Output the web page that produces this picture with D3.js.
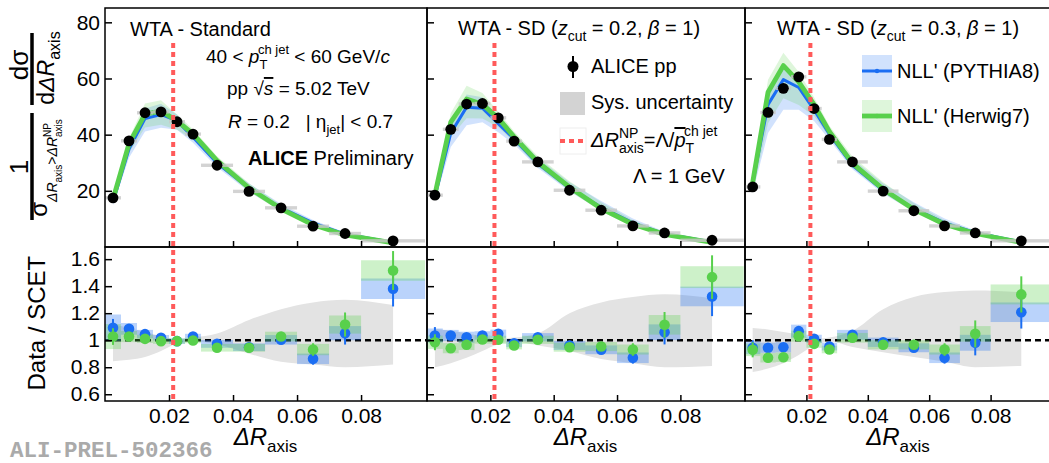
<!DOCTYPE html>
<html>
<head>
<meta charset="utf-8">
<script src="https://cdn.jsdelivr.net/npm/d3@7"></script>
<style>
body { margin: 0; background: #fff; }
svg { display: block; font-family: "Liberation Sans", Arial, sans-serif; }
</style>
</head>
<body>
<svg id="vis"></svg>
<script>
const plotWidth = 1049;
const plotHeight = 463;
const svg = d3.select('#vis')
            .attr('width', plotWidth)
            .attr('height', plotHeight);

// ΔR_axis binning
const binEdges = [0, 0.005, 0.01, 0.015, 0.02, 0.025, 0.03, 0.04, 0.05, 0.06, 0.07, 0.08, 0.1];
const binCenters = [0.0025, 0.0075, 0.0125, 0.0175, 0.0225, 0.0275, 0.035, 0.045, 0.055, 0.065, 0.075, 0.09];
const xTicks = [0.02, 0.04, 0.06, 0.08];
const topTicks = [20, 40, 60, 80];
const ratioTicks = [0.6, 0.8, 1, 1.2, 1.4, 1.6];
const deltaRNP = 0.0213;   // Λ / <pT ch jet>
const sysHalf = 0.6;       // half height of the sys boxes in the top panels

// ALICE pp data, 1/σ dσ/dΔR
const dataStd  = [17.5, 37.8, 47.8, 48.1, 44.6, 40.2, 29.1, 19.8, 13.95, 7.4, 4.8, 2.2];
const dataSD02 = [18.45, 41.9, 50.9, 51.1, 46.0, 37.7, 30.3, 20.2, 13.1, 7.5, 5.0, 2.4];
const dataSD03 = [21.4, 47.9, 56.5, 60.6, 49.3, 38.3, 30.3, 19.9, 12.9, 7.5, 5.0, 2.2];

// relative statistical errors of the data
const statStd  = [0.06, 0.03, 0.02, 0.02, 0.02, 0.02, 0.02, 0.03, 0.03, 0.05, 0.08, 0.095];
const statSD02 = [0.06, 0.03, 0.02, 0.02, 0.02, 0.02, 0.02, 0.03, 0.03, 0.05, 0.085, 0.11];
const statSD03 = [0.06, 0.03, 0.02, 0.02, 0.02, 0.02, 0.02, 0.03, 0.03, 0.05, 0.095, 0.1];

// SCET NLL' predictions
const pythiaStd  = [16.0, 34.9, 45.7, 47.2, 44.9, 39.1, 29.9, 20.9, 13.9, 8.6, 4.6, 1.6];
const herwigStd  = [17.0, 36.8, 47.3, 48.4, 44.9, 40.3, 30.8, 21.0, 13.6, 7.9, 4.3, 1.45];
const pythiaSD02 = [17.8, 40.5, 49.8, 49.4, 43.9, 38.5, 29.6, 21.0, 14.1, 8.6, 4.7, 1.8];
const herwigSD02 = [18.7, 44.5, 52.7, 50.8, 45.9, 39.2, 30.2, 21.3, 13.7, 8.1, 4.5, 1.6];
const pythiaSD03 = [22.7, 50.7, 59.6, 56.8, 48.8, 40.2, 29.1, 20.2, 13.7, 8.6, 5.1, 1.8];
const herwigSD03 = [23.0, 55.1, 64.6, 58.8, 50.7, 41.1, 29.8, 20.6, 13.4, 8.1, 4.8, 1.6];

// relative band of the predictions in the top panels
const bandUpStd    = [0.03, 0.05, 0.08, 0.08, 0.05, 0.04, 0.05, 0.08, 0.1, 0.12, 0.12, 0.1];
const bandDownStd  = [0.07, 0.09, 0.1, 0.1, 0.07, 0.05, 0.05, 0.06, 0.08, 0.1, 0.12, 0.12];
const bandUpSD02   = [0.04, 0.07, 0.09, 0.08, 0.05, 0.05, 0.07, 0.1, 0.16, 0.18, 0.16, 0.14];
const bandDownSD02 = [0.08, 0.12, 0.13, 0.1, 0.07, 0.05, 0.05, 0.06, 0.08, 0.1, 0.12, 0.12];
const bandUpSD03   = [0.05, 0.08, 0.07, 0.06, 0.05, 0.05, 0.08, 0.12, 0.16, 0.18, 0.16, 0.14];
const bandDownSD03 = [0.15, 0.2, 0.18, 0.14, 0.08, 0.05, 0.05, 0.06, 0.08, 0.1, 0.12, 0.12];

// Data / SCET
const ratioPythiaStd  = [1.092, 1.084, 1.045, 1.018, 0.993, 1.027, 0.973, 0.948, 1.003, 0.862, 1.052, 1.381];
const ratioHerwigStd  = [1.027, 1.027, 1.010, 0.993, 0.993, 0.998, 0.944, 0.944, 1.027, 0.931, 1.116, 1.516];
const ratioPythiaSD02 = [1.035, 1.035, 1.022, 1.035, 1.047, 0.978, 1.022, 0.961, 0.929, 0.870, 1.059, 1.324];
const ratioHerwigSD02 = [0.985, 0.941, 0.966, 1.005, 1.003, 0.961, 1.003, 0.948, 0.953, 0.931, 1.114, 1.467];
const ratioPythiaSD03 = [0.944, 0.944, 0.948, 1.067, 1.010, 0.953, 1.040, 0.985, 0.944, 0.870, 0.981, 1.207];
const ratioHerwigSD03 = [0.929, 0.870, 0.874, 1.030, 0.973, 0.931, 1.018, 0.966, 0.966, 0.931, 1.047, 1.339];

// relative theory uncertainty (ratio boxes, half height)
const uncPythiaStd  = [0.09, 0.04, 0.03, 0.02, 0.02, 0.02, 0.03, 0.03, 0.035, 0.045, 0.05, 0.055];
const uncHerwigStd  = [0.09, 0.04, 0.03, 0.02, 0.02, 0.02, 0.03, 0.03, 0.035, 0.045, 0.06, 0.05];
const uncPythiaSD02 = [0.05, 0.04, 0.04, 0.03, 0.03, 0.03, 0.03, 0.035, 0.035, 0.045, 0.055, 0.055];
const uncHerwigSD02 = [0.05, 0.04, 0.04, 0.03, 0.03, 0.03, 0.03, 0.035, 0.035, 0.04, 0.065, 0.055];
const uncPythiaSD03 = [0.05, 0.04, 0.04, 0.045, 0.03, 0.03, 0.035, 0.035, 0.035, 0.045, 0.06, 0.06];
const uncHerwigSD03 = [0.05, 0.04, 0.04, 0.04, 0.03, 0.03, 0.035, 0.035, 0.035, 0.04, 0.055, 0.055];

// systematic uncertainty band in the ratio
const sysHiStd  = [1.12, 1.09, 1.06, 1.03, 1.005, 1.02, 1.05, 1.15, 1.23, 1.28, 1.30, 1.26];
const sysLoStd  = [0.845, 0.855, 0.875, 0.92, 0.975, 0.99, 0.97, 0.90, 0.84, 0.82, 0.80, 0.82];
const sysHiSD02 = [1.085, 1.07, 1.05, 1.03, 1.01, 1.02, 1.05, 1.20, 1.28, 1.32, 1.34, 1.31];
const sysLoSD02 = [0.80, 0.83, 0.87, 0.92, 0.97, 0.99, 0.96, 0.92, 0.86, 0.83, 0.80, 0.81];
const sysHiSD03 = [1.09, 1.08, 1.06, 1.04, 1.01, 1.02, 1.07, 1.23, 1.32, 1.356, 1.368, 1.356];
const sysLoSD03 = [0.765, 0.79, 0.83, 0.89, 0.96, 0.99, 0.95, 0.91, 0.875, 0.84, 0.80, 0.81];

const blue = '#1b6ef3';
const green = '#58d04c';
const red = '#ff5a5a';

const topY0 = 8, topY1 = 247, botY1 = 401;
const yTop = d3.scaleLinear().domain([0, 85.1]).range([topY1, topY0]);
const yRat = d3.scaleLinear().domain([0.55, 1.69]).range([botY1, topY1]);

const panels = [
    {left: 105, right: 427, xMax: 0.1006, data: dataStd, stat: statStd,
     pythia: pythiaStd, herwig: herwigStd, bandUp: bandUpStd, bandDown: bandDownStd,
     rP: ratioPythiaStd, rH: ratioHerwigStd, uP: uncPythiaStd, uH: uncHerwigStd,
     sysHi: sysHiStd, sysLo: sysLoStd},
    {left: 427, right: 745, xMax: 0.1004, data: dataSD02, stat: statSD02,
     pythia: pythiaSD02, herwig: herwigSD02, bandUp: bandUpSD02, bandDown: bandDownSD02,
     rP: ratioPythiaSD02, rH: ratioHerwigSD02, uP: uncPythiaSD02, uH: uncHerwigSD02,
     sysHi: sysHiSD02, sysLo: sysLoSD02},
    {left: 745, right: 1052, xMax: 0.1, data: dataSD03, stat: statSD03,
     pythia: pythiaSD03, herwig: herwigSD03, bandUp: bandUpSD03, bandDown: bandDownSD03,
     rP: ratioPythiaSD03, rH: ratioHerwigSD03, uP: uncPythiaSD03, uH: uncHerwigSD03,
     sysHi: sysHiSD03, sysLo: sysLoSD03},
];


// text with sub/superscripts; parts: {t, s(size), y(shift), i, b, over, stack}
function richText(parent, x, y, parts, anchor) {
    const t = parent.append('text').attr('x', x).attr('y', y).style('white-space', 'pre');
    let cur = 0, prevLen = 0, pend = 0;
    parts.forEach(p => {
        const off = p.y || 0;
        const ts = t.append('tspan').text(p.t).attr('font-size', p.s);
        if (off !== cur) ts.attr('dy', off - cur);
        cur = off;
        if (p.i) ts.attr('font-style', 'italic');
        if (p.b) ts.attr('font-weight', 'bold');
        if (p.over) ts.style('text-decoration', 'overline');
        let dx = pend;
        pend = 0;
        if (p.stack) dx -= prevLen;
        if (dx) ts.attr('dx', dx);
        const len = ts.node().getComputedTextLength();
        if (p.stack) pend = Math.max(0, prevLen - len);
        prevLen = len;
    });
    if (anchor === 'middle') {
        const w = t.node().getBBox().width;
        t.attr('x', x - w / 2);
    }
    return t;
}

function rotated(x, y) {
    return svg.append('g').attr('transform', `translate(${x},${y}) rotate(-90)`);
}


function drawPanel(p, idx) {
    const x = d3.scaleLinear().domain([0, p.xMax]).range([p.left, p.right]);
    const defs = svg.append('defs');
    defs.append('clipPath').attr('id', 'clipT' + idx).append('rect')
        .attr('x', p.left).attr('y', topY0).attr('width', p.right - p.left).attr('height', topY1 - topY0);
    defs.append('clipPath').attr('id', 'clipB' + idx).append('rect')
        .attr('x', p.left).attr('y', topY1).attr('width', p.right - p.left).attr('height', botY1 - topY1);

    const idxs = d3.range(binCenters.length);

    // ---- top panel
    const gt = svg.append('g').attr('clip-path', `url(#clipT${idx})`);
    [[p.pythia, blue, 0.2], [p.herwig, green, 0.2]].forEach(([vals, col, op]) => {
        const area = d3.area()
            .x(i => x(binCenters[i]))
            .y0(i => yTop(vals[i] * (1 - p.bandDown[i])))
            .y1(i => yTop(vals[i] * (1 + p.bandUp[i])));
        gt.append('path').attr('d', area(idxs)).attr('fill', col).attr('fill-opacity', op);
    });
    [[p.pythia, blue, 3], [p.herwig, green, 4.8]].forEach(([vals, col, w]) => {
        const line = d3.line().x(i => x(binCenters[i])).y(i => yTop(vals[i]));
        gt.append('path').attr('d', line(idxs)).attr('fill', 'none')
            .attr('stroke', col).attr('stroke-width', w).attr('stroke-linejoin', 'round');
    });
    // sys boxes
    gt.selectAll('rect.sys').data(idxs).enter().append('rect')
        .attr('x', i => x(binEdges[i]))
        .attr('width', i => x(binEdges[i + 1]) - x(binEdges[i]))
        .attr('y', i => yTop(p.data[i] + sysHalf))
        .attr('height', i => yTop(p.data[i] - sysHalf) - yTop(p.data[i] + sysHalf))
        .attr('fill', '#c8c8c8').attr('fill-opacity', 0.8);
    gt.selectAll('line.err').data(idxs).enter().append('line')
        .attr('x1', i => x(binCenters[i])).attr('x2', i => x(binCenters[i]))
        .attr('y1', i => yTop(p.data[i] * (1 + p.stat[i])))
        .attr('y2', i => yTop(p.data[i] * (1 - p.stat[i])))
        .attr('stroke', '#000').attr('stroke-width', 2);
    gt.selectAll('circle.pt').data(idxs).enter().append('circle')
        .attr('cx', i => x(binCenters[i])).attr('cy', i => yTop(p.data[i]))
        .attr('r', 5.4).attr('fill', '#000');

    // ---- ratio panel
    const gb = svg.append('g').attr('clip-path', `url(#clipB${idx})`);
    const sysArea = d3.area().curve(d3.curveMonotoneX)
        .x(i => x(binCenters[i]))
        .y0(i => yRat(p.sysLo[i]))
        .y1(i => yRat(p.sysHi[i]));
    gb.append('path').attr('d', sysArea(idxs)).attr('fill', '#e3e3e3');
    gb.append('line').attr('x1', p.left).attr('x2', p.right)
        .attr('y1', yRat(1)).attr('y2', yRat(1))
        .attr('stroke', '#000').attr('stroke-width', 2.6).attr('stroke-dasharray', '6,4');
    [[p.rP, p.uP, blue], [p.rH, p.uH, green]].forEach(([r, u, col]) => {
        gb.append('g').selectAll('rect').data(idxs).enter().append('rect')
            .attr('x', i => x(binEdges[i]))
            .attr('width', i => x(binEdges[i + 1]) - x(binEdges[i]))
            .attr('y', i => yRat(r[i] * (1 + u[i])))
            .attr('height', i => yRat(r[i] * (1 - u[i])) - yRat(r[i] * (1 + u[i])))
            .attr('fill', col).attr('fill-opacity', 0.3);
    });
    [[p.rP, blue], [p.rH, green]].forEach(([r, col]) => {
        const g = gb.append('g');
        g.selectAll('line').data(idxs).enter().append('line')
            .attr('x1', i => x(binCenters[i])).attr('x2', i => x(binCenters[i]))
            .attr('y1', i => yRat(r[i] * (1 + p.stat[i])))
            .attr('y2', i => yRat(r[i] * (1 - p.stat[i])))
            .attr('stroke', col).attr('stroke-width', 2);
        g.selectAll('circle').data(idxs).enter().append('circle')
            .attr('cx', i => x(binCenters[i])).attr('cy', i => yRat(r[i]))
            .attr('r', 5.3).attr('fill', col);
    });

    // ΔR_NP line
    svg.append('line').attr('x1', x(deltaRNP)).attr('x2', x(deltaRNP))
        .attr('y1', 43).attr('y2', botY1)
        .attr('stroke', red).attr('stroke-width', 4).attr('stroke-dasharray', '5,4');

    // ---- axes
    const axX1 = svg.append('g').attr('transform', `translate(0,${topY1})`)
        .call(d3.axisBottom(x).tickValues(xTicks).tickSize(-6).tickFormat(''));
    const axX2 = svg.append('g').attr('transform', `translate(0,${botY1})`)
        .call(d3.axisBottom(x).tickValues(xTicks).tickSize(-6).tickPadding(7)
              .tickFormat(d3.format('.2f')));
    const axY1 = svg.append('g').attr('transform', `translate(${p.left},0)`)
        .call(d3.axisLeft(yTop).tickValues(topTicks).tickSize(-7).tickPadding(5)
              .tickFormat(idx === 0 ? d3.format('d') : ''));
    const axY2 = svg.append('g').attr('transform', `translate(${p.left},0)`)
        .call(d3.axisLeft(yRat).tickValues(ratioTicks).tickSize(-7).tickPadding(5)
              .tickFormat(idx === 0 ? (d => String(+d.toFixed(1))) : ''));
    [axX1, axX2, axY1, axY2].forEach(a => {
        a.attr('font-family', null).attr('font-size', 21);
        a.select('.domain').remove();
        a.selectAll('line').attr('stroke-width', 1.5);
        a.selectAll('text').attr('fill', '#000');
    });

    // frames
    [[topY0, topY1], [topY1, botY1]].forEach(([a, b]) => {
        svg.append('rect').attr('x', p.left).attr('y', a)
            .attr('width', p.right - p.left).attr('height', b - a)
            .attr('fill', 'none').attr('stroke', '#000').attr('stroke-width', 1.5);
    });

    // x title
    richText(svg, (p.left + p.right) / 2, 445, [
        {t: 'ΔR', s: 24, i: true}, {t: 'axis', s: 17, y: 7}], 'middle');
}

panels.forEach(drawPanel);

// ---- y titles
richText(rotated(45, 323), 0, 0, [{t: 'Data / SCET', s: 24}], 'middle');

svg.append('line').attr('x1', 32).attr('x2', 32).attr('y1', 113).attr('y2', 220)
    .attr('stroke', '#000').attr('stroke-width', 3.5);
svg.append('line').attr('x1', 32).attr('x2', 32).attr('y1', 33).attr('y2', 105)
    .attr('stroke', '#000').attr('stroke-width', 3.5);
richText(rotated(28, 167), 0, 0, [{t: '1', s: 26}], 'middle');
richText(rotated(47, 168), 0, 0, [
    {t: 'σ', s: 24},
    {t: 'ΔR', s: 14, y: 10, i: true}, {t: 'axis', s: 10, y: 15},
    {t: '>', s: 14, y: 10},
    {t: 'ΔR', s: 14, y: 10, i: true}, {t: 'axis', s: 10, y: 15},
    {t: 'NP', s: 10, y: 4, stack: true}], 'middle');
richText(rotated(28, 65), 0, 0, [{t: 'dσ', s: 26}], 'middle');
richText(rotated(54, 68), 0, 0, [
    {t: 'd', s: 23}, {t: 'ΔR', s: 23, i: true}, {t: 'axis', s: 16, y: 6}], 'middle');

// ---- annotations, left panel
richText(svg, 130, 36, [{t: 'WTA - Standard', s: 20}]);
richText(svg, 206, 63, [
    {t: '40 < ', s: 19}, {t: 'p', s: 19, i: true}, {t: 'T', s: 13, y: 6},
    {t: 'ch jet', s: 13, y: -9, stack: true}, {t: ' < 60 GeV/', s: 19}, {t: 'c', s: 19, i: true}]);
richText(svg, 227, 95, [
    {t: 'pp ', s: 19}, {t: '√', s: 19}, {t: 's', s: 19, i: true, over: true}, {t: ' = 5.02 TeV', s: 19}]);
richText(svg, 228, 128, [
    {t: 'R', s: 19, i: true}, {t: ' = 0.2   | η', s: 19}, {t: 'jet', s: 13, y: 6},
    {t: '| < 0.7', s: 19}]);
richText(svg, 248, 165, [{t: 'ALICE', s: 20, b: true}, {t: ' Preliminary', s: 20}]);

// ---- middle panel
richText(svg, 458, 35, [
    {t: 'WTA - SD (', s: 20}, {t: 'z', s: 20, i: true}, {t: 'cut', s: 14, y: 6},
    {t: ' = 0.2, ', s: 20}, {t: 'β', s: 20, i: true}, {t: ' = 1)', s: 20}]);
svg.append('line').attr('x1', 573).attr('x2', 573).attr('y1', 56).attr('y2', 78)
    .attr('stroke', '#000').attr('stroke-width', 2);
svg.append('circle').attr('cx', 573).attr('cy', 66.5).attr('r', 5.5).attr('fill', '#000');
richText(svg, 591, 73, [{t: 'ALICE pp', s: 20}]);
svg.append('rect').attr('x', 560).attr('y', 92).attr('width', 25).attr('height', 23).attr('fill', '#d3d3d3');
richText(svg, 591, 109, [{t: 'Sys. uncertainty', s: 20}]);
svg.append('rect').attr('x', 560).attr('y', 128).attr('width', 26).attr('height', 26)
    .attr('fill', 'none').attr('stroke', '#eeeeee').attr('stroke-width', 1);
svg.append('line').attr('x1', 560).attr('x2', 586).attr('y1', 141).attr('y2', 141)
    .attr('stroke', red).attr('stroke-width', 4).attr('stroke-dasharray', '5,4');
richText(svg, 591, 147, [
    {t: 'ΔR', s: 20, i: true}, {t: 'axis', s: 14, y: 6}, {t: 'NP', s: 14, y: -9, stack: true},
    {t: '=Λ/', s: 20}, {t: 'p', s: 20, i: true, over: true}, {t: 'T', s: 14, y: 6},
    {t: 'ch jet', s: 14, y: -11, stack: true}]);
richText(svg, 633, 183, [{t: 'Λ = 1 GeV', s: 20}]);

// ---- right panel
richText(svg, 777, 35, [
    {t: 'WTA - SD (', s: 20}, {t: 'z', s: 20, i: true}, {t: 'cut', s: 14, y: 6},
    {t: ' = 0.3, ', s: 20}, {t: 'β', s: 20, i: true}, {t: ' = 1)', s: 20}]);
[[blue, 55, 71, 3, "NLL' (PYTHIA8)"], [green, 100, 116, 4.8, "NLL' (Herwig7)"]].forEach(([col, y0, yl, w, label]) => {
    svg.append('rect').attr('x', 862).attr('y', y0).attr('width', 30).attr('height', 32)
        .attr('fill', col).attr('fill-opacity', 0.2);
    svg.append('line').attr('x1', 862).attr('x2', 892).attr('y1', yl).attr('y2', yl)
        .attr('stroke', col).attr('stroke-width', w);
    svg.append('circle').attr('cx', 877).attr('cy', yl).attr('r', 2.2).attr('fill', col);
    richText(svg, 897, yl + 7, [{t: label, s: 20}]);
});

// ---- figure id
svg.append('text').attr('x', 10).attr('y', 457)
    .attr('font-family', '"Liberation Mono", monospace').attr('font-weight', 'bold')
    .attr('font-size', 22.5).attr('fill', '#aaaaaa').text('ALI-PREL-502366');
</script>
</body>
</html>
